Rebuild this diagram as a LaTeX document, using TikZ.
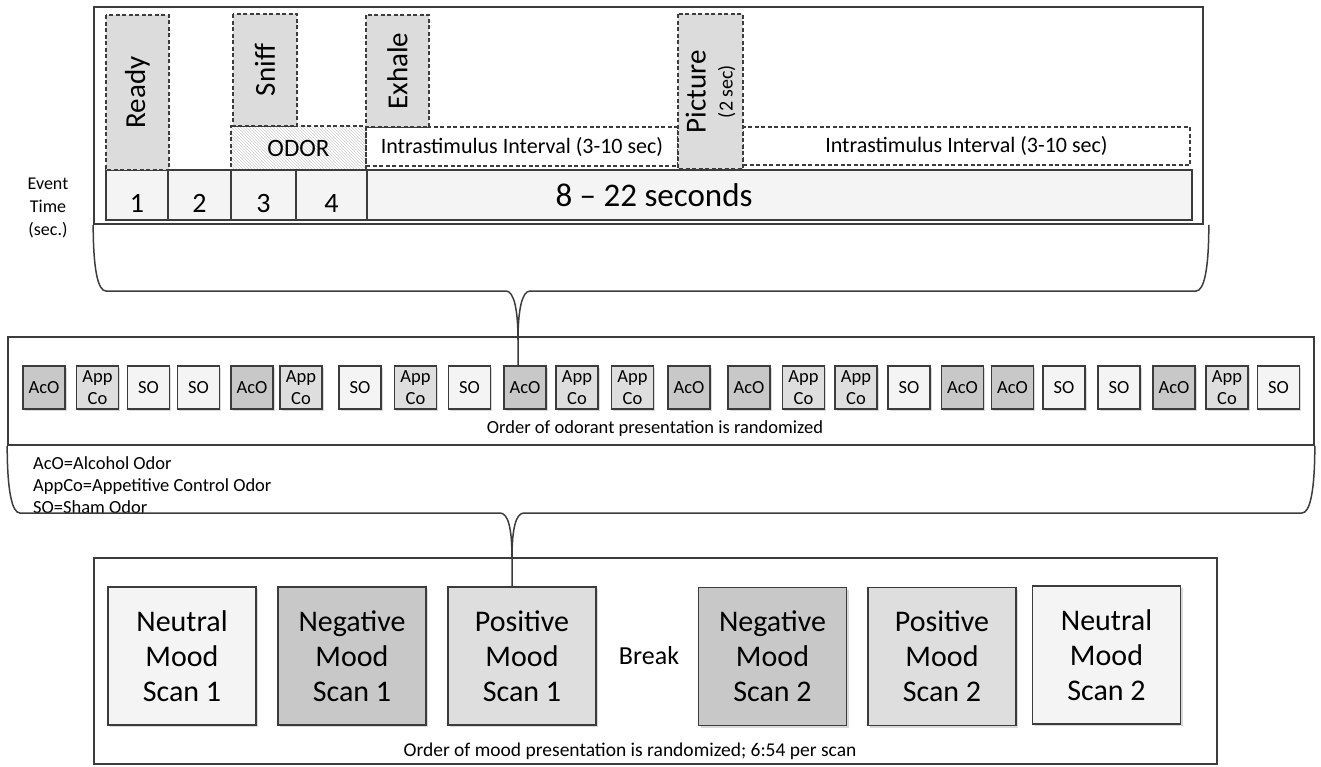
\documentclass[tikz,border=0pt]{standalone}
\usepackage{fontspec}
\setmainfont{Carlito}
\usetikzlibrary{patterns,shadows}

\definecolor{edge}{RGB}{60,60,60}
\definecolor{boxgray}{RGB}{220,220,220}
\definecolor{darkfill}{RGB}{200,200,200}
\definecolor{midfill}{RGB}{222,222,222}
\definecolor{lightfill}{RGB}{244,244,244}
\newcommand{\fsz}[2]{\fontsize{#1}{#2}\selectfont}

\tikzset{
	panel/.style={draw=edge,line width=1.6pt,inner sep=0pt},
	brace/.style={draw=edge,line width=1.5pt},
	dashbox/.style={draw=edge,line width=1.3pt,dash pattern=on 4pt off 2.5pt,inner sep=0pt},
	event/.style={dashbox,fill=boxgray,rotate=90,font=\fsz{29}{31}},
	slot/.style={draw=edge,line width=1.3pt,fill=lightfill,minimum height=50pt,inner sep=0pt,text height=34pt,text depth=0pt,font=\fsz{28}{30}},
	odor/.style={draw=edge,line width=1.3pt,minimum width=42pt,minimum height=43pt,inner sep=0pt,align=center,font=\fsz{18.5}{22},
		drop shadow={shadow xshift=1.5pt,shadow yshift=-1.5pt,opacity=0.3}},
	oA/.style={odor,fill=darkfill},
	oP/.style={odor,fill=midfill},
	oS/.style={odor,fill=lightfill},
	mood/.style={draw=edge,line width=1.3pt,minimum width=148pt,minimum height=138pt,inner sep=0pt,align=center,font=\fsz{30}{35},
		drop shadow={shadow xshift=2pt,shadow yshift=-2pt,opacity=0.3}}
}

\begin{document}
\begin{tikzpicture}[x=1pt,y=-1pt]
	\useasboundingbox (0,0) rectangle (1321,766);
	% trial panel
	\node[panel,minimum width=1109pt,minimum height=217pt] (trial) at (648.5,115.5) {};
	\node[dashbox,pattern=north west lines,pattern color=gray!40,minimum width=135pt,minimum height=44pt,font=\fsz{25}{27}] (odor) at (298.5,148) {ODOR};
	\node[dashbox,minimum width=312pt,minimum height=39pt,font=\fsz{22}{24}] (isi1) at (522,146.5) {Intrastimulus Interval (3-10 sec)};
	\node[dashbox,minimum width=447pt,minimum height=38pt,font=\fsz{22}{24}] (isi2) at (966.5,146) {Intrastimulus Interval (3-10 sec)};
	\foreach \x/\w/\n [count=\i] in {137/62/1,199.5/63/2,263.5/65/3,331.5/71/4}
		\node[slot,minimum width=\w pt] (s\i) at (\x,195) {\n};
	\node[slot,minimum width=825pt] (s5) at (779.5,195) {};
	\node[font=\fsz{33}{36}] (span) at (654,195) {8 -- 22 seconds};
	\node[event,minimum width=155pt,minimum height=63pt] (ready) at (137.5,92.5) {Ready};
	\node[event,minimum width=112pt,minimum height=64pt] (sniff) at (265,70) {Sniff};
	\node[event,minimum width=112pt,minimum height=63pt] (exhale) at (397.5,71) {Exhale};
	\node[event,minimum width=155pt,minimum height=65pt,align=center] (picture) at (710.5,91.5) {Picture\\[-4pt]{\fsz{20}{22}(2 sec)}};
	\node[align=center,font=\fsz{18}{23}] (evt) at (48,208) {Event\\Time\\(sec.)};
	% odorant panel
	\node[panel,minimum width=1306pt,minimum height=108pt] (odors) at (661,391) {};
	\foreach \x/\k/\s [count=\i] in {44/A/AcO,97.5/P/{App\\Co},148.5/S/SO,198.5/S/SO,252/A/AcO,301/P/{App\\Co},
		360/S/SO,415.5/P/{App\\Co},469.5/S/SO,525/A/AcO,577/P/{App\\Co},632.5/P/{App\\Co},
		689/A/AcO,749/A/AcO,803.5/P/{App\\Co},856/P/{App\\Co},909/S/SO,962.5/A/AcO,
		1012.5/A/AcO,1064/S/SO,1119/S/SO,1174/A/AcO,1227/P/{App\\Co},1278.5/S/SO}
		\node[o\k] (o\i) at (\x,387.5) {\s};
	\node[font=\fsz{18.5}{22}] (ocap) at (655,429) {Order of odorant presentation is randomized};
	\node[anchor=west,align=left,font=\fsz{18.5}{22},inner sep=0pt] (key) at (33,485) {AcO=Alcohol Odor\\AppCo=Appetitive Control Odor\\SO=Sham Odor};
	% mood panel
	\node[panel,minimum width=1123pt,minimum height=206pt] (moods) at (655.5,661) {};
	\node[mood,fill=lightfill] (m1) at (182,656) {Neutral\\Mood\\Scan 1};
	\node[mood,fill=darkfill] (m2) at (352,656) {Negative\\Mood\\Scan 1};
	\node[mood,fill=midfill] (m3) at (522,656) {Positive\\Mood\\Scan 1};
	\node[font=\fsz{26}{28}] (brk) at (649,656) {Break};
	\node[mood,fill=darkfill] (m4) at (772.5,656.5) {Negative\\Mood\\Scan 2};
	\node[mood,fill=midfill] (m5) at (942,656.5) {Positive\\Mood\\Scan 2};
	\node[mood,fill=lightfill] (m6) at (1106.5,655) {Neutral\\Mood\\Scan 2};
	\node[font=\fsz{19.5}{22}] (mcap) at (630,751) {Order of mood presentation is randomized; 6:54 per scan};
	% braces
	\coordinate (tipA) at (518,340);
	\coordinate (tipB) at (512,558);
	\draw[brace] (trial.south west) .. controls +(0,45) and +(-8,0) .. (106,291) -- (506,291) .. controls +(8,0) and +(0,-30) .. (tipA) -- (tipA |- o10.north);
	\draw[brace] (tipA) .. controls +(0,-30) and +(-8,0) .. (530,291) -- (1196,291) .. controls +(8,0) and +(0,45) .. ([xshift=5pt]trial.south east);
	\draw[brace] (odors.south west) .. controls +(0,45) and +(-8,0) .. (20,513) -- (500,513) .. controls +(8,0) and +(0,-30) .. (tipB) -- (tipB |- m3.north);
	\draw[brace] (tipB) .. controls +(0,-30) and +(-8,0) .. (524,513) -- (1302,513) .. controls +(8,0) and +(0,45) .. (odors.south east);
\end{tikzpicture}
\end{document}
